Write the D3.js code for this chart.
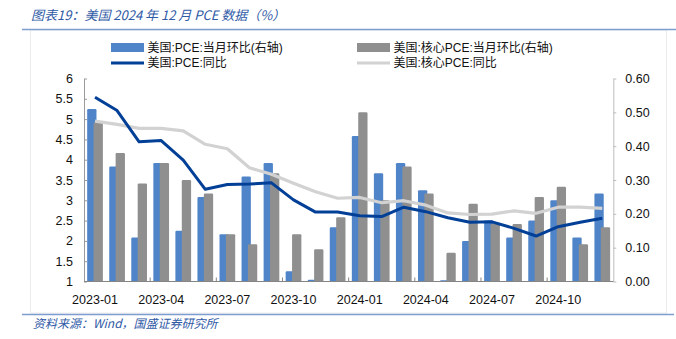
<!DOCTYPE html>
<html><head><meta charset="utf-8">
<script src="https://cdn.jsdelivr.net/npm/d3@7"></script>
<style>
html,body{margin:0;padding:0;background:#fff;}
svg{display:block;}
</style></head>
<body>
<svg id="c" width="676" height="339"></svg>
<script>
const months = ["2023-01","2023-02","2023-03","2023-04","2023-05","2023-06","2023-07","2023-08","2023-09","2023-10","2023-11","2023-12",
"2024-01","2024-02","2024-03","2024-04","2024-05","2024-06","2024-07","2024-08","2024-09","2024-10","2024-11","2024-12"];
const pceMoM  = [0.51,0.34,0.13,0.35,0.15,0.25,0.14,0.31,0.35,0.03,0.005,0.16,0.43,0.32,0.35,0.27,0.004,0.12,0.18,0.13,0.18,0.24,0.13,0.26];
const coreMoM = [0.47,0.38,0.29,0.35,0.30,0.26,0.14,0.11,0.32,0.14,0.095,0.19,0.50,0.24,0.34,0.26,0.085,0.23,0.17,0.17,0.25,0.28,0.11,0.16];
const pceYoY  = [5.54,5.21,4.44,4.47,3.99,3.27,3.39,3.40,3.43,3.01,2.71,2.71,2.62,2.60,2.83,2.72,2.57,2.46,2.47,2.31,2.12,2.35,2.46,2.56];
const coreYoY = [4.95,4.87,4.77,4.77,4.71,4.38,4.27,3.80,3.64,3.42,3.21,3.05,3.07,2.94,2.99,2.88,2.69,2.65,2.66,2.74,2.68,2.83,2.83,2.80];
const leftTicks = [1,1.5,2,2.5,3,3.5,4,4.5,5,5.5,6];
const rightTicks = [0,0.1,0.2,0.3,0.4,0.5,0.6];
const xLabelMonths = ["2023-01","2023-04","2023-07","2023-10","2024-01","2024-04","2024-07","2024-10"];

const title = "图表19：美国 2024 年 12 月 PCE 数据（%）";
const source = "资料来源：Wind，国盛证券研究所";
const legendItems = ["美国:PCE:当月环比(右轴)","美国:核心PCE:当月环比(右轴)","美国:PCE:同比","美国:核心PCE:同比"];

const C = {blue:"#4f84c9", grey:"#8f8f8f", dark:"#023f97", light:"#d2d2d2", title:"#2f5aa6"};
const FONT = "'Liberation Sans', Arial, 'Noto Sans CJK SC', sans-serif";
const CJK = "'Noto Sans CJK SC', 'Liberation Sans', sans-serif";

const svg = d3.select("#c");
const L = 84, R = 613.3, T = 78.5, B = 281.5;

const x = d3.scaleBand().domain(months).range([L, R]).padding(0);
const yL = d3.scaleLinear().domain([1, 6]).range([B, T]);
const yR = d3.scaleLinear().domain([0, 0.6]).range([B, T]);

// frame
svg.append("rect").attr("x",30.5).attr("y",30).attr("width",636).attr("height",283)
  .attr("fill","none").attr("stroke","#ececec").attr("stroke-width",1);

// title
svg.append("text").attr("x",31).attr("y",20).attr("fill",C.title)
  .attr("font-family",CJK).attr("font-size",13).attr("font-style","italic").text(title);
svg.append("line").attr("x1",22).attr("x2",676).attr("y1",29.5).attr("y2",29.5)
  .attr("stroke","#7d9dd3").attr("stroke-width",1.5);
// bottom
svg.append("line").attr("x1",22).attr("x2",674).attr("y1",314.5).attr("y2",314.5)
  .attr("stroke","#7d9dd3").attr("stroke-width",1.5);
svg.append("text").attr("x",33).attr("y",328).attr("fill",C.title)
  .attr("font-family",CJK).attr("font-size",12).attr("font-style","italic").text(source);

// bars
const bw = 9.3;
svg.append("g").selectAll("rect").data(months).join("rect")
  .attr("x", d => x(d) + x.bandwidth()/2 - 7.85)
  .attr("y", (d,i) => yR(pceMoM[i]))
  .attr("width", bw)
  .attr("height", (d,i) => Math.max(0, B - yR(pceMoM[i])))
  .attr("fill", C.blue).attr("rx",1.2);
svg.append("g").selectAll("rect").data(months).join("rect")
  .attr("x", d => x(d) + x.bandwidth()/2 - 1.45)
  .attr("y", (d,i) => yR(coreMoM[i]))
  .attr("width", bw)
  .attr("height", (d,i) => Math.max(0, B - yR(coreMoM[i])))
  .attr("fill", C.grey).attr("rx",1.2);

// lines
const line = arr => d3.line().x((d,i) => x(months[i]) + x.bandwidth()/2).y(d => yL(d))(arr);
svg.append("path").attr("d", line(coreYoY)).attr("fill","none")
  .attr("stroke",C.light).attr("stroke-width",3.2).attr("stroke-linejoin","round");
svg.append("path").attr("d", line(pceYoY)).attr("fill","none")
  .attr("stroke",C.dark).attr("stroke-width",3).attr("stroke-linejoin","round");

// left axis
const gl = svg.append("g").attr("transform",`translate(${L},0)`)
  .call(d3.axisLeft(yL).tickValues(leftTicks).tickFormat(d3.format("~g")).tickSizeInner(-3).tickSizeOuter(0).tickPadding(11));
gl.select(".domain").attr("stroke","#9a9a9a");
gl.selectAll(".tick line").attr("stroke","#9a9a9a");
gl.selectAll("text").attr("font-family",FONT).attr("font-size",12.5).attr("fill","#111");

// right axis
const gr = svg.append("g").attr("transform",`translate(${R},0)`)
  .call(d3.axisRight(yR).tickValues(rightTicks).tickFormat(d3.format(".2f")).tickSizeInner(3).tickSizeOuter(0).tickPadding(9));
gr.select(".domain").attr("stroke","#bdbdbd");
gr.selectAll(".tick line").attr("stroke","#bdbdbd");
gr.selectAll("text").attr("font-family",FONT).attr("font-size",12.5).attr("fill","#111");

// x axis baseline & ticks
svg.append("line").attr("x1",L).attr("x2",R).attr("y1",B).attr("y2",B)
  .attr("stroke","#858585").attr("stroke-width",1);
const tickIdx = d3.range(3, 24, 3);
svg.append("g").selectAll("line").data(tickIdx).join("line")
  .attr("x1", i => x(months[i])).attr("x2", i => x(months[i]))
  .attr("y1", B).attr("y2", B - 4).attr("stroke","#858585");
svg.append("g").selectAll("text").data(xLabelMonths).join("text")
  .attr("x", d => x(d) + x.bandwidth()/2).attr("y", 303.5)
  .attr("text-anchor","middle").attr("font-family",FONT).attr("font-size",12.5).attr("fill","#111")
  .text(d => d);

// legend
const lg = svg.append("g").attr("font-family",FONT).attr("font-size",12).attr("fill","#111");
const legPos = [
  {x:111, y:47.5, type:"rect", c:C.blue, t:legendItems[0]},
  {x:357, y:47.5, type:"rect", c:C.grey, t:legendItems[1]},
  {x:111, y:63, type:"line", c:C.dark, t:legendItems[2]},
  {x:357, y:63, type:"line", c:C.light, t:legendItems[3]}
];
legPos.forEach(p => {
  if (p.type === "rect") {
    lg.append("rect").attr("x",p.x).attr("y",p.y-4.5).attr("width",33).attr("height",9).attr("fill",p.c);
  } else {
    lg.append("line").attr("x1",p.x).attr("x2",p.x+33).attr("y1",p.y).attr("y2",p.y)
      .attr("stroke",p.c).attr("stroke-width",3);
  }
  lg.append("text").attr("x",p.x+36.5).attr("y",p.y).attr("dy","0.36em").text(p.t);
});
</script>
</body></html>
